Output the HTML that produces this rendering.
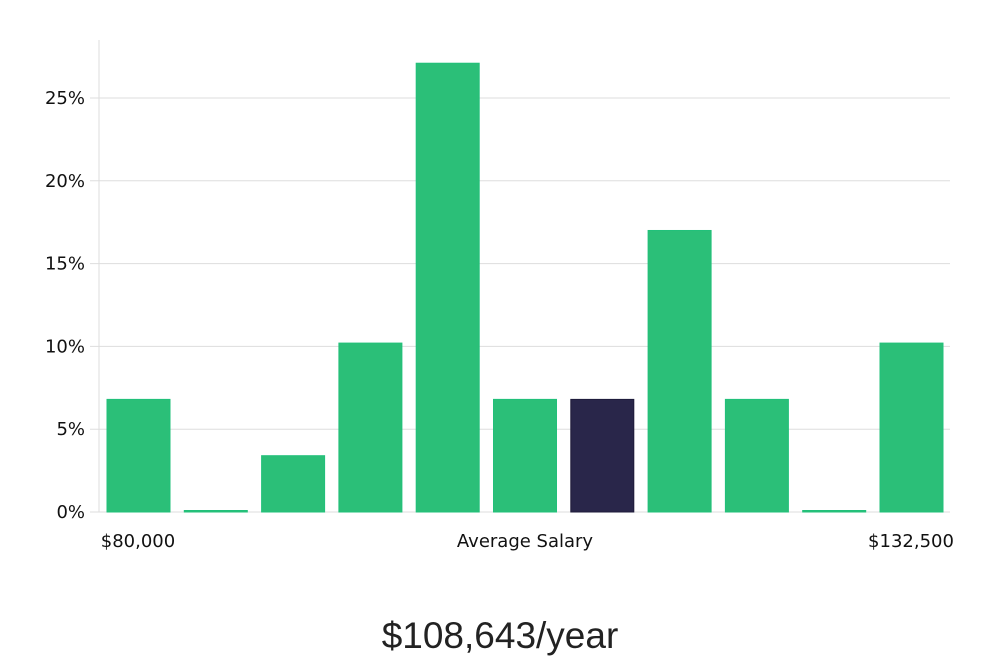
<!DOCTYPE html>
<html><head><meta charset="utf-8"><style>
body{margin:0;background:#fff;width:1000px;height:660px;overflow:hidden;font-family:"DejaVu Sans","Liberation Sans",sans-serif;}
</style></head><body>
<svg width="1000" height="660">
<g id="grid"></g><g id="bars"></g>
<text x="138" y="547" font-size="18" text-anchor="middle" fill="#111">$80,000</text>
<text x="525" y="547" font-size="18" text-anchor="middle" fill="#111">Average Salary</text>
<text x="911" y="547" font-size="18" text-anchor="middle" fill="#111">$132,500</text>
<text x="500" y="648" font-size="37" font-weight="300" text-anchor="middle" fill="#222" font-family="'Liberation Sans',sans-serif">$108,643/year</text>
</svg>
<script>
const ticks=[0,5,10,15,20,25];
const tickLabels=["0%","5%","10%","15%","20%","25%"];
const values=[6.8,0,3.4,10.2,27.1,6.8,6.8,17.0,6.8,0,10.2];
const highlight=[false,false,false,false,false,false,true,false,false,false,false];
const ns="http://www.w3.org/2000/svg";
const y=v=>512-v*16.56;
const x=i=>107+i*77.3;
const g=document.getElementById('grid'),b=document.getElementById('bars');
function mk(t,a,p){const e=document.createElementNS(ns,t);for(const k in a)e.setAttribute(k,a[k]);p.appendChild(e);return e;}
ticks.forEach((t,i)=>{
 const l=mk('line',{x1:90,x2:950,y1:y(t),y2:y(t),stroke:'#ddd','stroke-width':1},g);
 
 
 const tx=mk('text',{x:85,y:y(t)+6,'font-size':18,'text-anchor':'end',fill:'#111'},g);
 tx.textContent=tickLabels[i];
 
 
});
const ax=mk('line',{x1:99,x2:99,y1:40,y2:512,stroke:'#ddd','stroke-width':1},g);


values.forEach((v,i)=>{
 const h=Math.max(1.5,512-y(v));
 const r=mk('rect',{x:x(i),y:512-h,width:63,height:h,fill:highlight[i]?'#29264a':'#2bbf78',stroke:highlight[i]?'#1e1b3a':'#22c07a','stroke-width':1},b);
 
 
});
</script>
</body></html>
